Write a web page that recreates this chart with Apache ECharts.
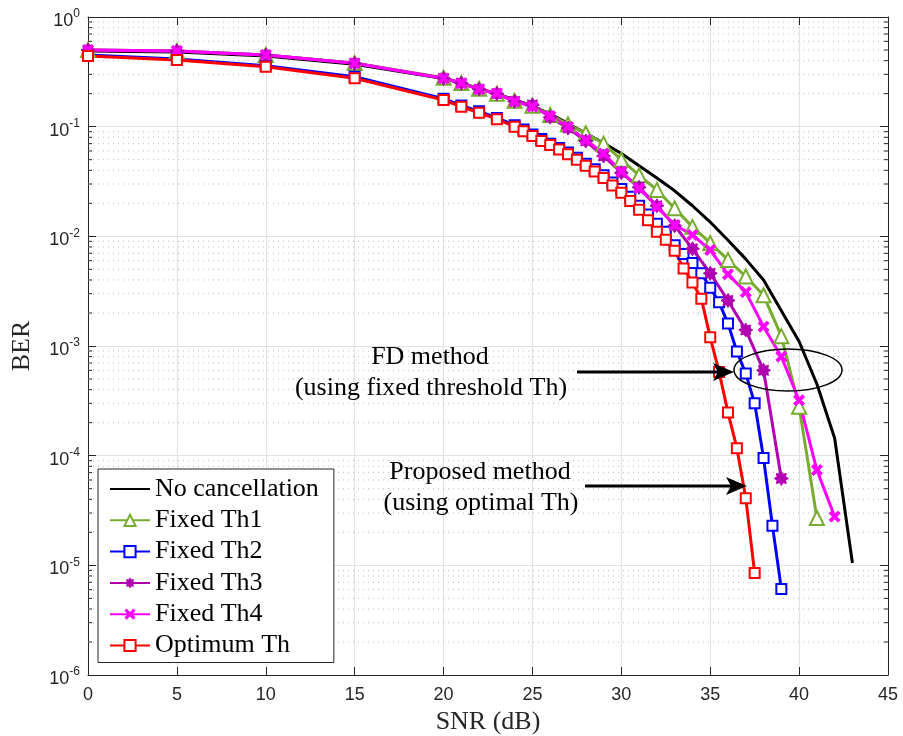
<!DOCTYPE html>
<html>
<head>
<meta charset="utf-8">
<script src="https://cdn.jsdelivr.net/npm/echarts@6/dist/echarts.min.js"></script>
<style>
  html, body { margin: 0; padding: 0; background: #ffffff; }
  #chart { width: 903px; height: 736px; }
</style>
</head>
<body>
<div id="chart"></div>
<script>
// ---- BER vs SNR data ----
const snrNoCancel = [0, 5, 10, 15, 20, 21, 22, 23, 24, 25, 26, 27, 28, 29, 30, 31, 32, 33, 34, 35, 36, 37, 38, 39, 40, 41, 42, 43];
const berNoCancel = [0.49, 0.48, 0.44, 0.37, 0.275, 0.25, 0.222, 0.2, 0.175, 0.155, 0.13, 0.107, 0.087, 0.071, 0.057, 0.044, 0.034, 0.026, 0.019, 0.0135, 0.0092, 0.0062, 0.004, 0.0021, 0.0011, 0.00045, 0.000144, 0.0000105];

const snrTh1 = [0, 5, 10, 15, 20, 21, 22, 23, 24, 25, 26, 27, 28, 29, 30, 31, 32, 33, 34, 35, 36, 37, 38, 39, 40, 41];
const berTh1 = [0.5, 0.49, 0.45, 0.38, 0.28, 0.25, 0.222, 0.2, 0.172, 0.155, 0.128, 0.105, 0.087, 0.07, 0.05, 0.036, 0.0265, 0.018, 0.0122, 0.0087, 0.0061, 0.0043, 0.0029, 0.00123, 0.00028, 0.000027];

const snrTh2 = [0, 5, 10, 15, 20, 21, 22, 23, 24, 24.5, 25, 25.5, 26, 26.5, 27, 27.5, 28, 28.5, 29, 29.5, 30, 30.5, 31, 31.5, 32, 32.5, 33, 33.5, 34, 34.5, 35, 35.5, 36, 36.5, 37, 37.5, 38, 38.5, 39];
const berTh2 = [0.45, 0.415, 0.36, 0.285, 0.18, 0.156, 0.138, 0.12, 0.103, 0.094, 0.085, 0.077, 0.07, 0.064, 0.058, 0.052, 0.046, 0.041, 0.036, 0.031, 0.027, 0.023, 0.019, 0.0158, 0.013, 0.011, 0.0083, 0.0069, 0.0057, 0.0046, 0.0034, 0.0025, 0.0016, 0.00089, 0.00056, 0.0003, 0.000095, 0.000023, 0.0000061];

const snrTh3 = [0, 5, 10, 15, 20, 21, 22, 23, 24, 25, 26, 27, 28, 29, 30, 31, 32, 33, 34, 35, 36, 37, 38, 39];
const berTh3 = [0.5, 0.49, 0.45, 0.378, 0.276, 0.249, 0.22, 0.2, 0.17, 0.158, 0.122, 0.097, 0.074, 0.054, 0.038, 0.028, 0.019, 0.0125, 0.0077, 0.0046, 0.0026, 0.0014, 0.0006, 0.000062];

const snrTh4 = [0, 5, 10, 15, 20, 21, 22, 23, 24, 25, 26, 27, 28, 29, 30, 31, 32, 33, 34, 35, 36, 37, 38, 39, 40, 41, 42];
const berTh4 = [0.5, 0.49, 0.45, 0.378, 0.276, 0.249, 0.219, 0.201, 0.17, 0.152, 0.125, 0.1, 0.0755, 0.057, 0.039, 0.0274, 0.0186, 0.0127, 0.0103, 0.0075, 0.0045, 0.0031, 0.0015, 0.0008, 0.00032, 0.000074, 0.0000278];

const snrOpt = [0, 5, 10, 15, 20, 21, 22, 23, 24, 24.5, 25, 25.5, 26, 26.5, 27, 27.5, 28, 28.5, 29, 29.5, 30, 30.5, 31, 31.5, 32, 32.5, 33, 33.5, 34, 34.5, 35, 35.5, 36, 36.5, 37, 37.5];
const berOpt = [0.44, 0.405, 0.352, 0.276, 0.175, 0.152, 0.134, 0.117, 0.1, 0.091, 0.082, 0.074, 0.068, 0.062, 0.056, 0.05, 0.044, 0.039, 0.034, 0.029, 0.025, 0.021, 0.0175, 0.014, 0.011, 0.0093, 0.0074, 0.0051, 0.0038, 0.0027, 0.0012, 0.00058, 0.000247, 0.000117, 0.000041, 0.0000085];

const seriesNames = ['No cancellation', 'Fixed Th1', 'Fixed Th2', 'Fixed Th3', 'Fixed Th4', 'Optimum Th'];

// log axis range and its minor grid (2..9 in every decade)
const yMin = 1e-6, yMax = 1;
const minorMantissas = [2, 3, 4, 5, 6, 7, 8, 9];
const decades = [1e-6, 1e-5, 1e-4, 1e-3, 1e-2, 1e-1];

const minorValues = [];
decades.forEach(d => minorMantissas.forEach(m => minorValues.push([0, m * d])));

const pairs = (xs, ys) => xs.map((x, i) => [x, ys[i]]);

// marker shapes
function starPath(n, rOut, rIn) {
  let p = '';
  for (let i = 0; i < 2 * n; i++) {
    const r = i % 2 === 0 ? rOut : rIn;
    const a = Math.PI * i / n - Math.PI / 2;
    p += (i === 0 ? 'M' : 'L') + (10 + r * Math.cos(a)).toFixed(2) + ',' + (10 + r * Math.sin(a)).toFixed(2);
  }
  return 'path://' + p + 'Z';
}
const asteriskSymbol = starPath(8, 10, 6.5);
const crossSymbol = 'path://M0,2L2,0L5,3L8,0L10,2L7,5L10,8L8,10L5,7L2,10L0,8L3,5Z';

const serif = 'Liberation Serif, Times New Roman, serif';
const sans = 'Liberation Sans, Arial, Helvetica, sans-serif';
const axisColor = '#262626';
const serifSize = 26;

const chart = echarts.init(document.getElementById('chart'), null, { renderer: 'canvas' });

const lineSeries = (name, data, color, symbol, size, extra) => Object.assign({
  name, type: 'line', data, xAxisIndex: 0, yAxisIndex: 0,
  symbol, symbolSize: size, showSymbol: symbol !== 'none',
  lineStyle: { color, width: 3 },
  itemStyle: { color, borderColor: color },
  emphasis: { disabled: true },
  animation: false, z: 3
}, extra || {});

const option = {
  backgroundColor: '#ffffff',
  animation: false,
  grid: { left: 88, right: 15, top: 17, bottom: 61, containLabel: false, outerBoundsMode: 'none' },
  xAxis: [{
    type: 'value', min: 0, max: 45, interval: 5, position: 'bottom',
    name: 'SNR (dB)', nameLocation: 'middle', nameGap: 29,
    nameTextStyle: { fontFamily: serif, fontSize: serifSize, color: axisColor },
    axisLine: { show: true, onZero: false, lineStyle: { color: axisColor, width: 1 } },
    axisTick: { show: true, inside: true, length: 8, lineStyle: { color: axisColor } },
    axisLabel: { fontFamily: sans, fontSize: 18, color: axisColor, margin: 11 },
    splitLine: { show: true, lineStyle: { color: '#e3e3e3', width: 1.2 } }
  }, {
    type: 'value', min: 0, max: 45, interval: 5, position: 'top',
    axisLine: { show: true, onZero: false, lineStyle: { color: axisColor, width: 1 } },
    axisTick: { show: true, inside: true, length: 8, lineStyle: { color: axisColor } },
    axisLabel: { show: false }, splitLine: { show: false }
  }],
  yAxis: [{
    type: 'log', logBase: 10, min: yMin, max: yMax, splitNumber: 6, position: 'left',
    name: 'BER', nameLocation: 'middle', nameGap: 53, nameRotate: 90,
    nameTextStyle: { fontFamily: serif, fontSize: serifSize, color: axisColor },
    axisLine: { show: true, onZero: false, lineStyle: { color: axisColor, width: 1 } },
    axisTick: { show: true, inside: true, length: 8, lineStyle: { color: axisColor } },
    axisLabel: {
      margin: 8, showMinLabel: true, showMaxLabel: true,
      formatter: v => '{b|10}{e|' + Math.round(Math.log10(v)) + '}',
      rich: {
        b: { fontFamily: sans, fontSize: 18, color: axisColor, padding: [8, 0, 0, 0] },
        e: { fontFamily: sans, fontSize: 12, color: axisColor, padding: [0, 0, 6, 0] }
      }
    },
    splitLine: { show: true, lineStyle: { color: '#e3e3e3', width: 1.2 } }
  }, {
    type: 'log', logBase: 10, min: yMin, max: yMax, splitNumber: 6, position: 'right',
    axisLine: { show: true, onZero: false, lineStyle: { color: axisColor, width: 1 } },
    axisTick: { show: true, inside: true, length: 8, lineStyle: { color: axisColor } },
    axisLabel: { show: false }, splitLine: { show: false }
  }],
  legend: {
    data: seriesNames.map((n, i) => i === 0
      ? { name: n, itemStyle: { opacity: 0, color: 'rgba(0,0,0,0)', borderWidth: 0 } }
      : { name: n }),
    orient: 'vertical', left: 98, top: 469,
    padding: [7, 15, 4, 11], itemGap: 5.3, itemWidth: 40, itemHeight: 14,
    backgroundColor: '#ffffff', borderColor: axisColor, borderWidth: 1, borderRadius: 0,
    textStyle: { fontFamily: serif, fontSize: serifSize, color: '#000000', lineHeight: 24 },
    selectedMode: false, z: 10
  },
  series: [
    {
      // dotted minor grid of the log axis with short inner ticks on both sides
      type: 'custom', data: minorValues, silent: true, z: 1,
      encode: { x: 0, y: 1 },
      renderItem: (params, api) => {
        const cs = params.coordSys;
        const y = api.coord([0, api.value(1)])[1];
        return {
          type: 'group', children: [
            { type: 'line', shape: { x1: cs.x, y1: y, x2: cs.x + cs.width, y2: y },
              style: { stroke: '#bdbdbd', lineWidth: 1, lineDash: [1, 4] } },
            { type: 'line', shape: { x1: cs.x, y1: y, x2: cs.x + 4, y2: y },
              style: { stroke: axisColor, lineWidth: 1 } },
            { type: 'line', shape: { x1: cs.x + cs.width - 4, y1: y, x2: cs.x + cs.width, y2: y },
              style: { stroke: axisColor, lineWidth: 1 } }
          ]
        };
      }
    },
    lineSeries(seriesNames[0], pairs(snrNoCancel, berNoCancel), '#000000', 'none', 0),
    lineSeries(seriesNames[1], pairs(snrTh1, berTh1), '#77AC30', 'emptyTriangle', 14,
      { itemStyle: { color: '#77AC30', borderColor: '#77AC30', borderWidth: 2 } }),
    lineSeries(seriesNames[2], pairs(snrTh2, berTh2), '#0000FF', 'emptyRect', 10,
      { itemStyle: { color: '#0000FF', borderColor: '#0000FF', borderWidth: 2.8 } }),
    lineSeries(seriesNames[3], pairs(snrTh3, berTh3), '#B000B0', asteriskSymbol, 14),
    lineSeries(seriesNames[4], pairs(snrTh4, berTh4), '#FF00FF', crossSymbol, 11),
    lineSeries(seriesNames[5], pairs(snrOpt, berOpt), '#FF0000', 'emptyRect', 10,
      { itemStyle: { color: '#FF0000', borderColor: '#FF0000', borderWidth: 2.8 } })
  ],
  graphic: [
    { type: 'text', x: 430, y: 357, z: 20,
      style: { text: 'FD method', font: serifSize + 'px ' + serif, fill: '#000', align: 'center', verticalAlign: 'middle' } },
    { type: 'text', x: 431, y: 388, z: 20,
      style: { text: '(using fixed threshold Th)', font: serifSize + 'px ' + serif, fill: '#000', align: 'center', verticalAlign: 'middle' } },
    { type: 'text', x: 480, y: 472, z: 20,
      style: { text: 'Proposed method', font: serifSize + 'px ' + serif, fill: '#000', align: 'center', verticalAlign: 'middle' } },
    { type: 'text', x: 481, y: 503, z: 20,
      style: { text: '(using optimal Th)', font: serifSize + 'px ' + serif, fill: '#000', align: 'center', verticalAlign: 'middle' } },
    { type: 'line', z: 20, shape: { x1: 577, y1: 372, x2: 720, y2: 372 }, style: { stroke: '#000', lineWidth: 3 } },
    { type: 'polygon', z: 20, shape: { points: [[734, 372], [713, 363], [718, 372], [713, 381]] }, style: { fill: '#000' } },
    { type: 'line', z: 20, shape: { x1: 585, y1: 486, x2: 733, y2: 486 }, style: { stroke: '#000', lineWidth: 3 } },
    { type: 'polygon', z: 20, shape: { points: [[747, 486], [726, 477], [731, 486], [726, 495]] }, style: { fill: '#000' } },
    { type: 'ellipse', z: 20, shape: { cx: 788, cy: 370, rx: 54, ry: 21 }, style: { stroke: '#000', lineWidth: 1.5, fill: null } }
  ]
};

chart.setOption(option);
</script>
</body>
</html>
